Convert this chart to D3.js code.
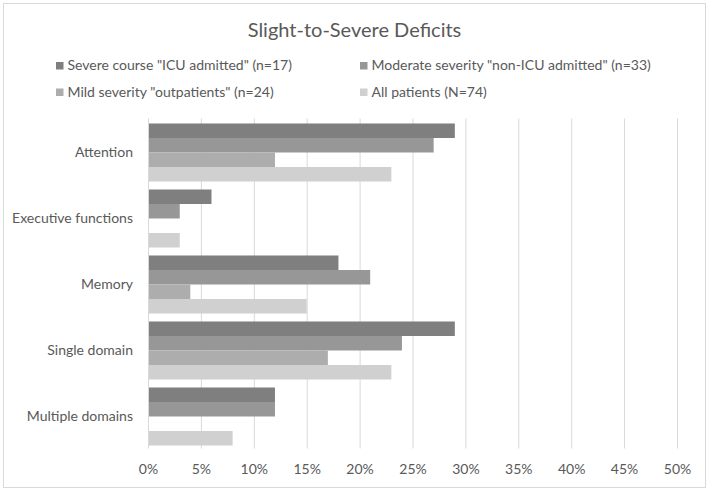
<!DOCTYPE html>
<html>
<head>
<meta charset="utf-8">
<script src="https://cdn.jsdelivr.net/npm/d3@7"></script>
<style>
  html, body { margin: 0; padding: 0; background: #fff; }
  svg { display: block; font-family: Lato, "Open Sans", sans-serif; }
</style>
</head>
<body>
<svg id="chart" width="709" height="491"></svg>
<script>
const title = "Slight-to-Severe Deficits";
const categories = ["Attention", "Executive functions", "Memory", "Single domain", "Multiple domains"];
const seriesNames = [
  'Severe course "ICU admitted" (n=17)',
  'Moderate severity "non-ICU admitted" (n=33)',
  'Mild severity "outpatients" (n=24)',
  'All patients (N=74)'
];
const severeValues   = [29, 6, 18, 29, 12];
const moderateValues = [27, 3, 21, 24, 12];
const mildValues     = [12, 0, 4, 17, 0];
const allValues      = [23, 3, 15, 23, 8];
const tickValues = [0, 5, 10, 15, 20, 25, 30, 35, 40, 45, 50];
const seriesColors = ["#7f7f7f", "#979797", "#adadad", "#d0d0d0"];

const seriesValues = [severeValues, moderateValues, mildValues, allValues];

const svg = d3.select("#chart");
const textColor = "#595959";
const gridColor = "#d9d9d9";

// outer border
svg.append("rect").attr("x", 3.5).attr("y", 3.5).attr("width", 702).attr("height", 484)
  .attr("fill", "#fff").attr("stroke", gridColor).attr("stroke-width", 1);

const plot = { left: 148, right: 677, top: 119.5, bottom: 449.5 };

const x = d3.scaleLinear().domain([0, 50]).range([plot.left, plot.right]);
const y = d3.scaleBand().domain(categories).range([plot.top, plot.bottom])
  .paddingInner(0.121).paddingOuter(0.0605);
const ySub = d3.scaleBand().domain(d3.range(seriesNames.length)).range([0, y.bandwidth()]);

// title
svg.append("text").attr("x", 354.5).attr("y", 37).attr("text-anchor", "middle")
  .attr("fill", textColor).style("font-size", "20px").text(title);

// legend
const legendPos = [[56, 65.5], [360, 65.5], [56, 92], [360, 92]];
seriesNames.forEach((name, i) => {
  const g = svg.append("g").attr("transform", `translate(${legendPos[i][0]},${legendPos[i][1]})`);
  g.append("rect").attr("x", 0).attr("y", -3.5).attr("width", 7.5).attr("height", 7.5).attr("fill", seriesColors[i]);
  g.append("text").attr("x", 11.5).attr("y", 0).attr("dy", "0.35em")
    .attr("fill", textColor).style("font-size", "14px").text(name);
});

// gridlines
svg.append("g").selectAll("line").data(tickValues.slice(1)).join("line")
  .attr("x1", d => x(d) + 0.5).attr("x2", d => x(d) + 0.5)
  .attr("y1", plot.top - 1).attr("y2", plot.bottom - 1)
  .attr("stroke", gridColor).attr("stroke-width", 1);

// x axis labels
const xAxis = d3.axisBottom(x).tickValues(tickValues).tickFormat(d => d + "%").tickSize(0).tickPadding(0);
const xg = svg.append("g").attr("transform", `translate(0,${plot.bottom + 15})`).call(xAxis);
xg.select(".domain").remove();
xg.selectAll("text").attr("fill", textColor).style("font-size", "14px")
  .style("font-family", "Lato, 'Open Sans', sans-serif").attr("dy", "0.71em");

// bars
const groups = svg.append("g").selectAll("g").data(categories).join("g")
  .attr("transform", c => `translate(0,${y(c)})`);
groups.selectAll("rect").data((c, ci) => seriesValues.map((vals, si) => ({ si, v: vals[ci] })))
  .join("rect")
  .attr("x", x(0))
  .attr("y", d => ySub(d.si))
  .attr("width", d => x(d.v) - x(0))
  .attr("height", ySub.bandwidth())
  .attr("fill", d => seriesColors[d.si]);

// y axis
const yAxis = d3.axisLeft(y).tickSize(0).tickPadding(15);
const yg = svg.append("g").attr("transform", `translate(${plot.left},0)`).call(yAxis);
yg.select(".domain").attr("stroke", gridColor).attr("d", `M0.5,${plot.top - 1}V${plot.bottom - 1}`);
yg.selectAll("text").attr("fill", textColor).style("font-size", "14px")
  .style("font-family", "Lato, 'Open Sans', sans-serif");
</script>
</body>
</html>
